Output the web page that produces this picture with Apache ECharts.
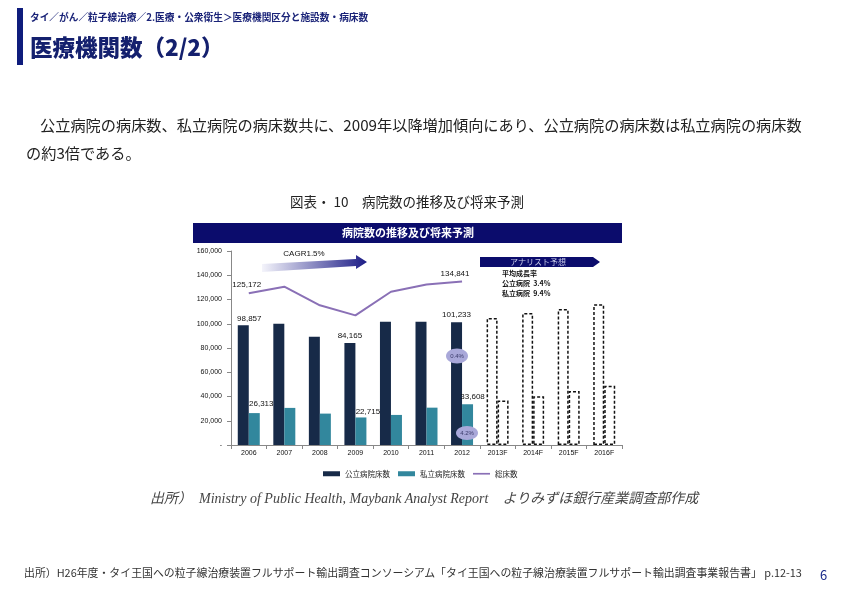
<!DOCTYPE html>
<html>
<head>
<meta charset="utf-8">
<script src="https://cdn.jsdelivr.net/npm/echarts@6/dist/echarts.min.js"></script>
<style>
  html, body { margin:0; padding:0; background:#fff; }
  body { width:842px; height:595px; position:relative; overflow:hidden; font-family:"Noto Sans CJK JP","Noto Sans",sans-serif; }
  #chart { position:absolute; left:0; top:0; width:842px; height:595px; }
  .t { position:absolute; white-space:nowrap; }
</style>
</head>
<body>
<div id="chart"></div>
<div class="t" style="left:17px;top:8px;width:6px;height:57px;background:#0e1c7c;"></div>
<div class="t" style="left:30px;top:10px;font-size:9.7px;font-weight:bold;color:#1a2378;line-height:14px;">タイ／がん／粒子線治療／2.医療・公衆衛生＞医療機関区分と施設数・病床数</div>
<div class="t" style="left:30px;top:31px;font-size:22.5px;font-weight:900;color:#14206e;line-height:30px;">医療機関数（2/2）</div>
<div class="t" style="left:26px;top:110px;font-size:15.2px;color:#222;line-height:28px;"><span style="padding-left:14px;">公立病院の病床数、私立病院の病床数共に、2009年以降増加傾向にあり、公立病院の病床数は私立病院の病床数</span><br>の約3倍である。</div>
<div class="t" style="left:290px;top:192px;font-size:13.5px;color:#222;line-height:18px;">図表・ 10　病院数の推移及び将来予測</div>
<div class="t" style="left:150px;top:489px;font-size:14px;color:#444;line-height:20px;font-style:italic;font-family:'Liberation Serif','Noto Sans CJK JP',serif;">出所）　Ministry of Public Health, Maybank Analyst Report　よりみずほ銀行産業調査部作成</div>
<div class="t" style="left:24px;top:564px;font-size:10.9px;color:#333;line-height:16px;">出所）H26年度・タイ王国への粒子線治療装置フルサポート輸出調査コンソーシアム「タイ王国への粒子線治療装置フルサポート輸出調査事業報告書」 p.12-13</div>
<div class="t" style="left:820px;top:566px;font-size:13px;color:#1a2a8a;line-height:18px;">6</div>
<script>
const categories = ['2006','2007','2008','2009','2010','2011','2012','2013F','2014F','2015F','2016F'];
const publicBeds = [98857, 100000, 89300, 84165, 101600, 101600, 101233];
const privateBeds = [26313, 30600, 25900, 22715, 24800, 30800, 33608];
const totalBeds = [125172, 130600, 115200, 106880, 126400, 132400, 134841];
const publicForecast = [104700, 108800, 112100, 116000];
const privateForecast = [36600, 40200, 44600, 48800];
const seriesNames = ['公立病院床数', '私立病院床数', '総床数'];
const publicLabelIdx = [0, 3, 6];
const privateLabelIdx = [0, 3, 6];
const totalLabelIdx = [0, 6];

const fmt = v => v === 0 ? '-' : v.toLocaleString('en-US');
const forecastStyle = { color: 'rgba(0,0,0,0)', borderColor: '#111', borderType: [3, 2], borderWidth: 1.5 };
const lblFont = { fontFamily: 'Liberation Sans, DejaVu Sans, sans-serif', fontSize: 8, color: '#111' };

function barData(actual, forecast, labelIdx, offsets, dists) {
  const d = actual.map((v, i) => {
    const k = labelIdx.indexOf(i);
    if (k < 0) return v;
    return { value: v, label: Object.assign({ show: true, position: 'top', distance: dists[k], offset: offsets[k], formatter: p => fmt(p.value) }, lblFont) };
  });
  return d.concat(forecast.map(v => ({ value: v, itemStyle: forecastStyle })));
}

const publicData = barData(publicBeds, publicForecast, publicLabelIdx, [[6,0],[0,0],[0,0]], [2, 3, 3]);
const privateData = barData(privateBeds, privateForecast, privateLabelIdx, [[7,0],[7,0],[5,0]], [5, 2, 3]);
const totalData = totalBeds.map((v, i) => {
  const k = totalLabelIdx.indexOf(i);
  if (k < 0) return v;
  return { value: v, label: Object.assign({ show: true, position: 'top', distance: 4, offset: [[-2,0],[-7,0]][k], formatter: p => fmt(p.value) }, lblFont) };
});

const chart = echarts.init(document.getElementById('chart'), null, { renderer: 'canvas' });
chart.setOption({
  animation: false,
  grid: { left: 231, width: 391, top: 251, height: 194 },
  legend: {
    left: 318, top: 465, itemWidth: 17, itemHeight: 5, itemGap: 8,
    textStyle: { fontSize: 7.5, color: '#222', fontFamily: 'Noto Sans CJK JP' },
    data: [
      { name: seriesNames[0], icon: 'rect' },
      { name: seriesNames[1], icon: 'rect' },
      { name: seriesNames[2], icon: 'path://M0,0 L10,0 L10,1 L0,1 Z' }
    ]
  },
  xAxis: {
    type: 'category', data: categories, boundaryGap: true,
    axisLine: { lineStyle: { color: '#888', width: 1 } },
    axisTick: { show: true, alignWithLabel: false, length: 4, lineStyle: { color: '#888' } },
    axisLabel: { fontSize: 7, color: '#111', margin: 5, fontFamily: 'Liberation Sans, sans-serif', interval: 0 }
  },
  yAxis: {
    type: 'value', min: 0, max: 160000, interval: 20000,
    splitLine: { show: false },
    axisLine: { show: true, lineStyle: { color: '#888', width: 1 } },
    axisTick: { show: true, length: 4, lineStyle: { color: '#888' } },
    axisLabel: { fontSize: 7, color: '#111', margin: 9, fontFamily: 'Liberation Sans, sans-serif', formatter: fmt }
  },
  series: [
    { name: seriesNames[0], type: 'bar', barWidth: 11, barGap: '0%', data: publicData, itemStyle: { color: '#172a48' } },
    { name: seriesNames[1], type: 'bar', barWidth: 11, barGap: '0%', data: privateData, itemStyle: { color: '#32879d' } },
    { name: seriesNames[2], type: 'line', data: totalData, showSymbol: true, symbol: 'circle', symbolSize: 0.01,
      lineStyle: { color: '#8a70b6', width: 2 }, itemStyle: { color: '#8a70b6' } }
  ],
  graphic: [
    { type: 'rect', z: 100, shape: { x: 193, y: 223, width: 429, height: 20 }, style: { fill: '#0b0c6c' } },
    { type: 'text', z: 101, x: 408, y: 233, style: { text: '病院数の推移及び将来予測', fill: '#fff', font: 'bold 11px "Noto Sans CJK JP"', align: 'center', verticalAlign: 'middle' } },
    { type: 'polygon', z: 100, shape: { points: [[262,264],[356,259],[356,255],[367,262],[356,269],[356,266],[262,272]] },
      style: { fill: new echarts.graphic.LinearGradient(0, 0, 1, 0, [{ offset: 0, color: '#f4f4fb' }, { offset: 1, color: '#1c1c86' }]) } },
    { type: 'text', z: 101, x: 304, y: 254, style: { text: 'CAGR1.5%', fill: '#111', font: '8px "Liberation Sans"', align: 'center', verticalAlign: 'middle' } },
    { type: 'polygon', z: 100, shape: { points: [[480,257],[593,257],[600,262],[593,267],[480,267]] }, style: { fill: '#0b0c6c' } },
    { type: 'text', z: 101, x: 538, y: 262, style: { text: 'アナリスト予想', fill: '#c8cbe8', font: '8px "Noto Sans CJK JP"', align: 'center', verticalAlign: 'middle' } },
    { type: 'text', z: 101, x: 502, y: 273, style: { text: '平均成長率', fill: '#111', font: 'bold 7px "Noto Sans CJK JP"', verticalAlign: 'middle' } },
    { type: 'text', z: 101, x: 502, y: 283, style: { text: '公立病院  3.4%', fill: '#111', font: 'bold 7px "Noto Sans CJK JP"', verticalAlign: 'middle' } },
    { type: 'text', z: 101, x: 502, y: 293, style: { text: '私立病院  9.4%', fill: '#111', font: 'bold 7px "Noto Sans CJK JP"', verticalAlign: 'middle' } },
    { type: 'ellipse', z: 100, shape: { cx: 457, cy: 356, rx: 11, ry: 7.5 }, style: { fill: '#a9a8d9' } },
    { type: 'text', z: 101, x: 457, y: 356, style: { text: '0.4%', fill: '#3a3a6a', font: '6px "Liberation Sans"', align: 'center', verticalAlign: 'middle' } },
    { type: 'ellipse', z: 100, shape: { cx: 467, cy: 433, rx: 11, ry: 7 }, style: { fill: '#a9a8d9' } },
    { type: 'text', z: 101, x: 467, y: 433, style: { text: '4.2%', fill: '#3a3a6a', font: '6px "Liberation Sans"', align: 'center', verticalAlign: 'middle' } }
  ]
});
</script>
</body>
</html>
